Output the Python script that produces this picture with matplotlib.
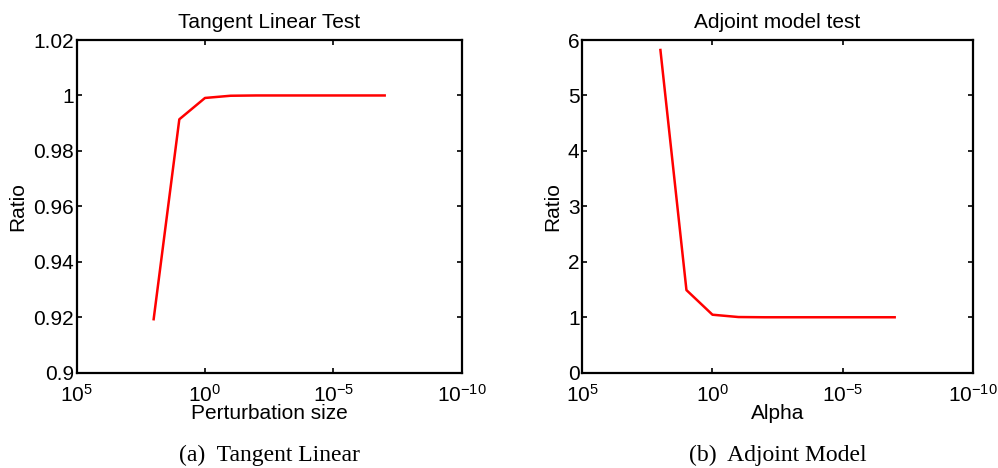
import numpy as np
import matplotlib
matplotlib.use("Agg")
import matplotlib.pyplot as plt

plt.rcParams["font.family"] = ["Liberation Sans", "DejaVu Sans"]
plt.rcParams["mathtext.fontset"] = "custom"
plt.rcParams["mathtext.rm"] = "Liberation Sans"
plt.rcParams["mathtext.it"] = "Liberation Sans:italic"
plt.rcParams["mathtext.bf"] = "Liberation Sans:bold"

# perturbation sizes / alpha values
step_sizes = [1e2, 1e1, 1e0, 1e-1, 1e-2, 1e-3, 1e-4, 1e-5, 1e-6, 1e-7]

# tangent linear ratio
tl_ratio = [0.9193, 0.9914, 0.9991, 0.9999, 1.0, 1.0, 1.0, 1.0, 1.0, 1.0]

# adjoint ratio
adj_ratio = [5.82, 1.49, 1.046, 1.004, 1.0, 1.0, 1.0, 1.0, 1.0, 1.0]

x_ticks = [1e5, 1e0, 1e-5, 1e-10]

fig = plt.figure(figsize=(9.98, 4.68), dpi=100)
ax1 = fig.add_axes([0.0768, 0.2036, 0.3858, 0.7109])
ax2 = fig.add_axes([0.5835, 0.2036, 0.3912, 0.7109])

panels = [
    (ax1, tl_ratio, "Tangent Linear Test", "Perturbation size",
     (0.9, 1.02), np.arange(0.9, 1.0201, 0.02), "(a)  Tangent Linear"),
    (ax2, adj_ratio, "Adjoint model test", "Alpha",
     (0, 6), np.arange(0, 7, 1), "(b)  Adjoint Model"),
]

for ax, vals, title, xlabel, ylim, yticks, caption in panels:
    ax.plot(step_sizes, vals, color="red", lw=1.8)
    ax.set_xscale("log")
    ax.set_xlim(1e5, 1e-10)
    ax.set_xticks(x_ticks)
    ax.xaxis.set_minor_locator(matplotlib.ticker.NullLocator())
    ax.set_ylim(*ylim)
    ax.set_yticks(yticks)
    ax.yaxis.set_major_formatter(matplotlib.ticker.FuncFormatter(lambda v, p: f"{v:g}"))
    ax.tick_params(direction="in", top=True, right=True, length=3.5, width=1.2,
                   labelsize=15, pad=2)
    ax.tick_params(axis="x", pad=8)
    for s in ax.spines.values():
        s.set_linewidth(1.6)
    ax.set_title(title, fontsize=15, pad=9)
    ax.set_xlabel(xlabel, fontsize=15, labelpad=-1)
    ax.set_ylabel("Ratio", fontsize=15, labelpad=4)
    pos = ax.get_position()
    fig.text((pos.x0 + pos.x1) / 2, 1 - 455 / 468, caption, ha="center", va="center",
             fontsize=17, family="Liberation Serif")

fig.savefig("out.png", dpi=100)
